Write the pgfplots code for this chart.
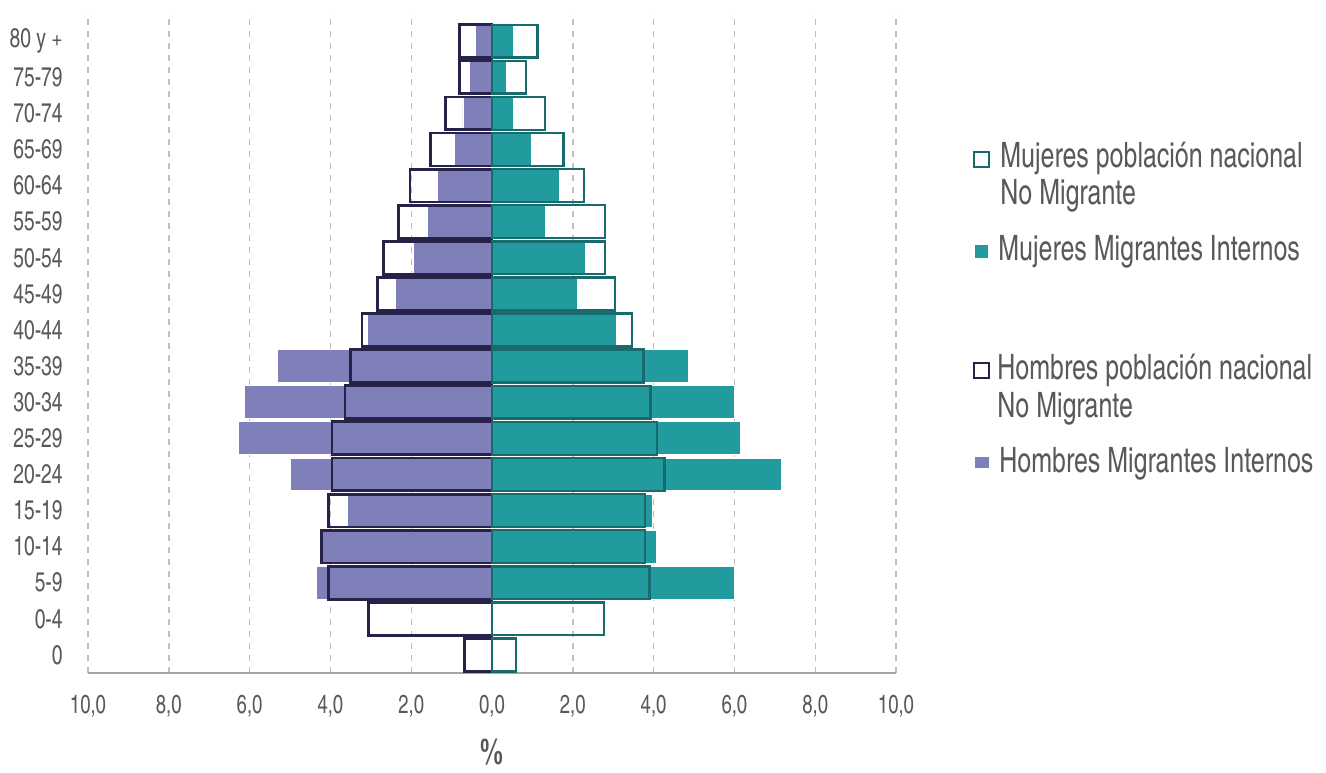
\documentclass[border=0pt]{standalone}
\usepackage{fontspec}
\setmainfont{texgyreheroscn-regular.otf}[BoldFont=texgyreheroscn-bold.otf, FakeStretch=0.87]
\usepackage{pgfplots}
\pgfplotsset{compat=1.18}
\definecolor{menfill}{HTML}{7F7FBA}
\definecolor{menline}{HTML}{26224A}
\definecolor{womfill}{HTML}{219B9D}
\definecolor{womline}{HTML}{176B6C}
\definecolor{txt}{HTML}{595959}
\definecolor{gridgray}{HTML}{BFBFBF}
\definecolor{axisgray}{HTML}{A6A6A6}
\begin{document}
\begin{tikzpicture}
\path[use as bounding box] (-44pt,-49.5pt) rectangle (619pt,336.5pt);
\begin{axis}[
  scale only axis, width=404pt, height=330pt,
  xmin=-10, xmax=10, ymin=-0.5, ymax=17.78,
  axis x line*=bottom, axis y line*=left,
  x axis line style={draw=axisgray, line width=1.2pt, -},
  y axis line style={draw=none},
  xtick={-10,-8,-6,-4,-2,2,4,6,8,10},
  xticklabels={10{,}0,8{,}0,6{,}0,4{,}0,2{,}0,2{,}0,4{,}0,6{,}0,8{,}0,10{,}0},
  extra x ticks={0}, extra x tick labels={0{,}0}, extra x tick style={grid=none},
  xmajorgrids, grid style={gridgray, dash pattern=on 3pt off 3pt, line width=0.7pt},
  major tick length=0pt,
  ytick={0,...,17},
  yticklabels={0,0-4,5-9,10-14,15-19,20-24,25-29,30-34,35-39,40-44,45-49,50-54,55-59,60-64,65-69,70-74,75-79,80 y +},
  ticklabel style={font=\fontsize{13}{13}\selectfont, text=txt},
  yticklabel style={anchor=east, inner sep=0pt, xshift=-12.5pt, font=\fontsize{13.5}{13.5}\selectfont},
  xticklabel style={anchor=center, inner sep=0pt, yshift=-16.5pt},
  xlabel={\bfseries\%},
  xlabel style={at={(axis description cs:0.5,0)}, anchor=north, inner sep=0pt, yshift=-33pt, font=\fontsize{18}{18}\selectfont, text=txt},
  xbar, bar width=0.91, bar shift=0pt,
  clip=false,
]
% Hombres Migrantes Internos
\addplot[fill=menfill, draw=white, line width=0.4pt] coordinates {
(-4.35,2) (-4.2,3) (-3.58,4) (-5.0,5) (-6.27,6) (-6.12,7) (-5.3,8) (-3.08,9)
(-2.39,10) (-1.94,11) (-1.59,12) (-1.34,13) (-0.92,14) (-0.72,15) (-0.55,16) (-0.42,17)};
% Mujeres Migrantes Internos
\addplot[fill=womfill, draw=white, line width=0.4pt] coordinates {
(6.01,2) (4.08,3) (3.98,4) (7.16,5) (6.16,6) (6.01,7) (4.86,8) (3.08,9)
(2.11,10) (2.31,11) (1.31,12) (1.66,13) (0.98,14) (0.53,15) (0.36,16) (0.53,17)};
% Hombres poblacion nacional No Migrante
\addplot[fill=none, draw=menline, line width=1.4pt] coordinates {
(-0.68,0) (-3.05,1) (-4.04,2) (-4.23,3) (-4.05,4) (-3.96,5) (-3.96,6) (-3.64,7) (-3.5,8) (-3.22,9)
(-2.84,10) (-2.69,11) (-2.31,12) (-2.03,13) (-1.53,14) (-1.16,15) (-0.81,16) (-0.81,17)};
% Mujeres poblacion nacional No Migrante
\addplot[fill=none, draw=womline, line width=1.2pt] coordinates {
(0.59,0) (2.77,1) (3.9,2) (3.79,3) (3.79,4) (4.27,5) (4.08,6) (3.92,7) (3.75,8) (3.46,9)
(3.04,10) (2.79,11) (2.79,12) (2.27,13) (1.77,14) (1.31,15) (0.84,16) (1.13,17)};
\end{axis}
% legend
\begin{scope}[every node/.style={anchor=base west, inner sep=0pt, text=txt, font=\fontsize{17.5}{18.5}\selectfont}]
\draw[womline, line width=1pt, fill=white] (442.75pt,253pt) rectangle (450.25pt,260.5pt);
\node at (456pt,252.5pt) {Mujeres población nacional};
\node at (456pt,234pt) {No Migrante};
\fill[womfill] (443.5pt,207.5pt) rectangle (450pt,214pt);
\node at (455pt,206.5pt) {Mujeres Migrantes Internos};
\draw[menline, line width=1pt, fill=white] (442.75pt,147.5pt) rectangle (450.25pt,155pt);
\node at (454.5pt,147pt) {Hombres población nacional};
\node at (454.5pt,128pt) {No Migrante};
\fill[menfill] (443.25pt,102.5pt) rectangle (450.25pt,108pt);
\node at (455.5pt,100.5pt) {Hombres Migrantes Internos};
\end{scope}
\end{tikzpicture}
\end{document}
